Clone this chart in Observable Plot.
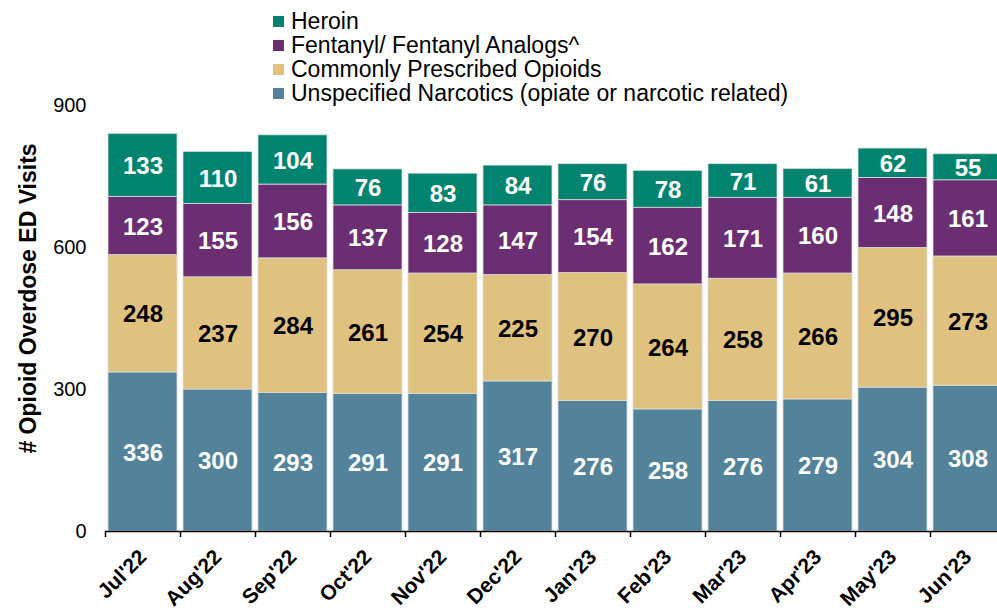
<!DOCTYPE html>
<html>
<head>
<meta charset="utf-8">
<script src="https://cdn.jsdelivr.net/npm/d3@7"></script>
<script src="https://cdn.jsdelivr.net/npm/@observablehq/plot@0.6"></script>
<style>
  html, body { margin: 0; padding: 0; background: #fff; overflow: hidden; }
  #wrap { position: relative; width: 997px; height: 612px; font-family: "Liberation Sans", Arial, sans-serif; }
  #legend { position: absolute; left: 273px; top: 9px; font-size: 23px; color: #000; line-height: 24px; }
  #legend .row { display: flex; align-items: center; height: 24px; white-space: nowrap; }
  #legend .sw { width: 11px; height: 11px; margin-right: 7px; flex: none; }
</style>
</head>
<body>
<div id="wrap">
  <div id="chart"></div>
  <div id="legend"></div>
</div>
<script>
const months = ["Jul'22","Aug'22","Sep'22","Oct'22","Nov'22","Dec'22","Jan'23","Feb'23","Mar'23","Apr'23","May'23","Jun'23"];
const seriesNames = ["Unspecified Narcotics (opiate or narcotic related)","Commonly Prescribed Opioids","Fentanyl/ Fentanyl Analogs^","Heroin"];
const seriesColors = ["#53839B","#DFC27F","#6C2E72","#00846F"];
const unspecified = [336,300,293,291,291,317,276,258,276,279,304,308];
const commonlyPrescribed = [248,237,284,261,254,225,270,264,258,266,295,273];
const fentanyl = [123,155,156,137,128,147,154,162,171,160,148,161];
const heroin = [133,110,104,76,83,84,76,78,71,61,62,55];
const yTicks = [0,300,600,900];
const yLabel = "# Opioid Overdose ED Visits";

const seriesValues = [unspecified, commonlyPrescribed, fentanyl, heroin];
const data = [];
months.forEach((m, i) => {
  seriesNames.forEach((s, j) => data.push({month: m, series: s, value: seriesValues[j][i]}));
});

const font = "Liberation Sans, Arial, sans-serif";

const chart = Plot.plot({
  width: 997,
  height: 612,
  marginTop: 105,
  marginBottom: 81,
  marginLeft: 105,
  marginRight: -8,
  style: {fontFamily: font, background: "white", overflow: "visible"},
  x: {domain: months, range: [105, 1005], padding: 0, label: null},
  y: {domain: [0, 900], label: null},
  color: {domain: seriesNames, range: seriesColors},
  marks: [
    Plot.barY(data, {
      x: "month", y: "value", fill: "series", z: "series",
      insetLeft: 3, insetRight: 3,
      stroke: "#dcdcdc", strokeWidth: 0.8
    }),
    Plot.text(data, Plot.stackY({
      x: "month", y: "value", z: "series",
      text: d => d.series === seriesNames[1] ? null : String(d.value),
      fill: "white", fontSize: 24, fontWeight: "bold", dy: 1
    })),
    Plot.text(data, Plot.stackY({
      x: "month", y: "value", z: "series",
      text: d => d.series === seriesNames[1] ? String(d.value) : null,
      fill: "black", fontSize: 24, fontWeight: "bold", dy: 1
    })),
    Plot.ruleY([0], {stroke: "black", strokeWidth: 1.5}),
    Plot.ruleX(months, {x: d => d, dx: -37.5, y1: 0, y2: 0, insetTop: 6, stroke: "black", strokeWidth: 1.5}),
    Plot.axisY({ticks: yTicks, tickSize: 0, tickPadding: 19, fontSize: 20, label: null, tickFormat: d => String(d)}),
    Plot.axisX({tickSize: 0, tickRotate: -45, tickPadding: 22, fontSize: 21, fontWeight: "bold", label: null}),
    Plot.text([yLabel], {
      text: d => d, frameAnchor: "left", textAnchor: "middle", lineAnchor: "middle",
      rotate: -90, dx: -77, dy: -20,
      fontSize: 23, fontWeight: "bold", fill: "black"
    })
  ]
});
document.getElementById("chart").appendChild(chart);

const legend = document.getElementById("legend");
const legendOrder = [3, 2, 1, 0];
legendOrder.forEach(j => {
  const row = document.createElement("div");
  row.className = "row";
  const sw = document.createElement("span");
  sw.className = "sw";
  sw.style.background = seriesColors[j];
  const t = document.createElement("span");
  t.textContent = seriesNames[j];
  row.appendChild(sw);
  row.appendChild(t);
  legend.appendChild(row);
});
</script>
</body>
</html>
